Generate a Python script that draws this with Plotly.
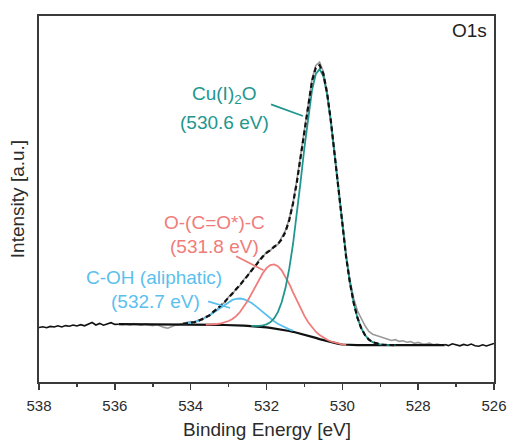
import plotly.graph_objects as go
import numpy as np

# ---------------- data ----------------
binding_energy = [
    538.0, 537.9, 537.8, 537.7, 537.6, 537.5, 537.4, 537.3, 537.2, 537.1,
    537.0, 536.9, 536.8, 536.7, 536.6, 536.5, 536.4, 536.3, 536.2, 536.1,
    536.0, 535.9, 535.8, 535.7, 535.6, 535.5, 535.4, 535.3, 535.2, 535.1,
    535.0, 534.9, 534.8, 534.7, 534.6, 534.5, 534.4, 534.3, 534.2, 534.1,
    534.0, 533.9, 533.8, 533.7, 533.6, 533.5, 533.4, 533.3, 533.2, 533.1,
    533.0, 532.9, 532.8, 532.7, 532.6, 532.5, 532.4, 532.3, 532.2, 532.1,
    532.0, 531.9, 531.8, 531.7, 531.6, 531.5, 531.4, 531.3, 531.2, 531.1,
    531.0, 530.9, 530.8, 530.7, 530.6, 530.5, 530.4, 530.3, 530.2, 530.1,
    530.0, 529.9, 529.8, 529.7, 529.6, 529.5, 529.4, 529.3, 529.2, 529.1,
    529.0, 528.9, 528.8, 528.7, 528.6, 528.5, 528.4, 528.3, 528.2, 528.1,
    528.0, 527.9, 527.8, 527.7, 527.6, 527.5, 527.4, 527.3, 527.2, 527.1,
    527.0, 526.9, 526.8, 526.7, 526.6, 526.5, 526.4, 526.3, 526.2, 526.1,
    526.0,
]
measured = [
    54.5, 55.2, 54.3, 55.6, 55.0, 56.2, 55.1, 56.4, 55.8, 57.0,
    56.0, 57.3, 56.2, 57.8, 59.5, 57.0, 58.6, 56.8, 58.3, 59.3,
    57.6, 57.8, 57.2, 58.1, 57.0, 58.3, 57.4, 56.8, 57.9, 57.1,
    56.4, 57.5, 55.8, 54.6, 53.8, 55.5, 56.9, 57.6, 58.6, 59.3,
    60.5, 59.2, 62.0, 61.8, 65.5, 66.0, 70.8, 72.4, 77.3, 79.6,
    85.2, 87.6, 93.4, 96.3, 102.5, 105.8, 112.3, 115.6, 121.9, 124.8,
    130.1, 131.2, 136.0, 137.4, 144.0, 151.5, 163.2, 179.5, 201.8, 226.9,
    254.6, 281.0, 302.5, 316.5, 319.8, 310.0, 289.5, 261.4, 227.0, 191.8,
    157.2, 127.0, 102.0, 83.5, 71.0, 63.5, 56.2, 50.5, 47.8, 46.5,
    45.0, 43.6, 42.8, 41.5, 42.3, 40.6, 41.2, 39.8, 40.4, 38.7,
    39.6, 38.2, 37.9, 38.8, 37.3, 38.0, 36.9, 37.5, 36.4, 38.2,
    37.0, 36.2, 37.6, 36.5, 37.9, 36.3, 35.8, 37.2, 36.0, 37.1,
    38.5,
]
# fit window 535.9 ... 527.3 eV
fit_start, fit_end = 535.9, 527.3
background = [
    57.8, 57.8, 57.8, 57.7, 57.7, 57.7, 57.7, 57.6, 57.6, 57.6,
    57.6, 57.6, 57.5, 57.5, 57.5, 57.5, 57.5, 57.5, 57.5, 57.5,
    57.5, 57.4, 57.4, 57.3, 57.3, 57.2, 57.2, 57.1, 57.0, 57.0,
    56.8, 56.6, 56.5, 56.3, 56.1, 55.9, 55.6, 55.3, 55.0, 54.6,
    54.1, 53.6, 53.0, 52.4, 51.7, 51.0, 50.2, 49.3, 48.4, 47.4,
    46.3, 45.2, 44.1, 42.9, 41.8, 40.7, 39.7, 38.8, 38.1, 37.5,
    37.2, 37.0, 36.9, 36.8, 36.8, 36.8, 36.8, 36.8, 36.8, 36.8,
    36.8, 36.8, 36.8, 36.8, 36.8, 36.8, 36.8, 36.8, 36.8, 36.8,
    36.8, 36.8, 36.8, 36.8, 36.8, 36.8, 36.8,
]
# component intensities above background (start energy, values every 0.1 eV)
coh_start = 534.2
coh_values = [0.7, 1.1, 1.7, 2.5, 3.7, 5.2, 7.2, 9.4, 12.1, 15.0,
              17.9, 20.8, 23.3, 25.3, 26.6, 27.0, 26.6, 25.3, 23.3, 20.8,
              17.9, 15.0, 12.1, 9.4, 7.2, 5.2, 3.7, 2.5, 1.7, 1.1]
ester_start = 533.6
ester_values = [0.1, 0.2, 0.5, 0.8, 1.5, 2.5, 4.0, 6.2, 9.3, 13.5,
                18.7, 24.9, 32.0, 39.5, 47.0, 53.8, 59.3, 62.8, 64.0, 62.8,
                59.3, 53.8, 47.0, 39.5, 32.0, 24.9, 18.7, 13.5, 9.3, 6.2,
                4.0, 2.5, 1.5, 0.8, 0.5, 0.2, 0.1, 0.0]
cu2o_start = 532.4
cu2o_values = [0.2, 0.4, 0.8, 1.6, 3.0, 5.6, 10.0, 16.9, 27.3, 42.2,
               62.3, 87.8, 118.3, 152.3, 187.1, 219.7, 246.4, 263.9, 270.0, 263.9,
               246.4, 219.7, 187.1, 152.3, 118.3, 87.8, 62.3, 42.2, 27.3, 16.9,
               10.0, 5.6, 3.0, 1.6, 0.8, 0.4, 0.2, 0.1, 0.0]
envelope_start, envelope_end = 534.2, 528.6

labels = {
    "cu2o": ["Cu(I)<sub>2</sub>O", "(530.6 eV)"],
    "ester": ["O-(C=O*)-C", "(531.8 eV)"],
    "coh": ["C-OH (aliphatic)", "(532.7 eV)"],
}
x_ticks = [538, 536, 534, 532, 530, 528, 526]

# ---------------- assembling ----------------
be = np.array(binding_energy)
meas = np.array(measured)

def idx(e):
    return int(np.argmin(np.abs(be - e)))

i0, i1 = idx(fit_start), idx(fit_end)
fit_be = be[i0:i1 + 1]
bg = np.array(background)

def place(start, vals):
    arr = np.zeros(len(fit_be))
    s = int(np.argmin(np.abs(fit_be - start)))
    arr[s:s + len(vals)] = vals
    return arr, s, s + len(vals)

coh, c0, c1 = place(coh_start, coh_values)
est, e0, e1 = place(ester_start, ester_values)
cu, u0, u1 = place(cu2o_start, cu2o_values)
env = bg + coh + est + cu
v0 = int(np.argmin(np.abs(fit_be - envelope_start)))
v1 = int(np.argmin(np.abs(fit_be - envelope_end)))

TEAL = "#21968e"
RED = "#f07c7a"
BLUE = "#5bbfee"
FONT = "Liberation Sans, Arial, sans-serif"
AX = "#3a3a3a"
TXT = "#2b2b2b"

fig = go.Figure()
fig.add_trace(go.Scatter(x=fit_be, y=meas[i0:i1 + 1], mode="lines",
                         line=dict(color="#9a9a9a", width=1.6)))
fig.add_trace(go.Scatter(x=be[:i0 + 1], y=meas[:i0 + 1], mode="lines",
                         line=dict(color="#111111", width=1.6)))
fig.add_trace(go.Scatter(x=be[i1:], y=meas[i1:], mode="lines",
                         line=dict(color="#111111", width=1.6)))
fig.add_trace(go.Scatter(x=fit_be, y=bg, mode="lines",
                         line=dict(color="#111111", width=2.2)))
fig.add_trace(go.Scatter(x=fit_be[c0:c1], y=(bg + coh)[c0:c1], mode="lines",
                         line=dict(color=BLUE, width=1.8)))
fig.add_trace(go.Scatter(x=fit_be[e0:e1], y=(bg + est)[e0:e1], mode="lines",
                         line=dict(color=RED, width=1.8)))
fig.add_trace(go.Scatter(x=fit_be[u0:u1], y=(bg + cu)[u0:u1], mode="lines",
                         line=dict(color=TEAL, width=1.8)))
fig.add_trace(go.Scatter(x=fit_be[v0:v1 + 1], y=env[v0:v1 + 1], mode="lines",
                         line=dict(color="#111111", width=2.2, dash="5px,3px")))

ann = []
def text(x, y, s, color, anchor="center"):
    ann.append(dict(x=x, y=y, xref="x", yref="y", text=s, showarrow=False,
                    xanchor=anchor, yanchor="middle",
                    font=dict(family=FONT, size=19, color=color)))

text(533.11, 286.7, labels["cu2o"][0], TEAL)
text(533.11, 259.7, labels["cu2o"][1], TEAL)
text(533.38, 159.7, labels["ester"][0], RED)
text(533.38, 135.7, labels["ester"][1], RED)
text(534.96, 104.7, labels["coh"][0], BLUE)
text(534.93, 80.7, labels["coh"][1], BLUE)
text(526.12, 351.7, "O1s", "#1e1e1e", anchor="right")
ann.append(dict(x=-0.048, y=0.5, xref="paper", yref="paper", text="Intensity [a.u.]",
                showarrow=False, textangle=-90, xanchor="center", yanchor="middle",
                font=dict(family=FONT, size=19, color=TXT)))
ann.append(dict(x=0.5, y=-0.131, xref="paper", yref="paper", text="Binding Energy [eV]",
                showarrow=False, xanchor="center", yanchor="middle",
                font=dict(family=FONT, size=19, color=TXT)))

shapes = [
    dict(type="line", xref="x", yref="y", x0=531.88, y0=277.7, x1=531.04, y1=266.0,
         line=dict(color=TEAL, width=1.8)),
    dict(type="line", xref="x", yref="y", x0=532.80, y0=125.7, x1=532.08, y1=111.7,
         line=dict(color=RED, width=1.8)),
    dict(type="line", xref="x", yref="y", x0=533.54, y0=80.7, x1=532.96, y1=74.0,
         line=dict(color=BLUE, width=1.8)),
]

fig.update_layout(
    width=507, height=441,
    margin=dict(l=39, r=13, t=16, b=59, autoexpand=False),
    paper_bgcolor="white", plot_bgcolor="white",
    showlegend=False,
    annotations=ann, shapes=shapes,
    font=dict(family=FONT, color=TXT),
)
fig.update_xaxes(
    range=[538, 526], tickvals=x_ticks, ticktext=[str(t) for t in x_ticks],
    ticks="outside", ticklen=6, tickwidth=1.5, tickcolor=AX,
    minor=dict(dtick=1, tick0=526, ticks="outside", ticklen=3, tickwidth=1.5, tickcolor=AX),
    showline=True, linecolor=AX, linewidth=1.8, mirror=True,
    showgrid=False, zeroline=False, automargin=False,
    tickfont=dict(family=FONT, size=15, color=TXT),
    ticklabelstandoff=3, ticklabeloverflow="allow",
)
fig.update_yaxes(
    range=[0, 366], showticklabels=False, ticks="",
    showline=True, linecolor=AX, linewidth=1.8, mirror=True,
    showgrid=False, zeroline=False, automargin=False,
)

# remove the default page margin so the 507x441 figure fills the window exactly
fig.write_html("out.html",
               config={"displayModeBar": False, "staticPlot": True},
               post_script="document.body.style.margin='0';document.body.style.overflow='hidden';")
